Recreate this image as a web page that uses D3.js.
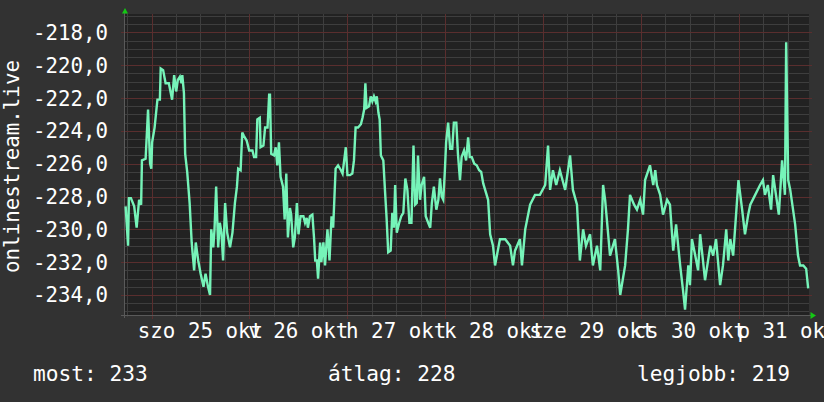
<!DOCTYPE html>
<html>
<head>
<meta charset="utf-8">
<script src="https://cdn.jsdelivr.net/npm/d3@7"></script>
<style>
  body { margin: 0; background: #323232; }
  svg { display: block; }
  text { font-family: "DejaVu Sans Mono", monospace; fill: #ffffff; }
</style>
</head>
<body>
<script>
// hours since 2014-10-24 17:15 and the value read at that time
var hours = [
  0.4, 1.0, 1.2, 1.7, 2.5, 3.1, 3.7, 4.2, 4.4, 5.3, 5.9, 6.4, 6.7, 6.9, 7.5, 8.2, 8.8, 9.0, 9.6, 10.2,
  11.0, 11.8, 12.3, 12.8, 13.2, 13.7, 14.1, 14.3, 14.7, 15.0, 15.5, 16.1, 16.6, 17.2, 17.6, 18.2, 18.8, 19.5, 20.0, 20.6,
  21.1, 21.4, 21.9, 22.2, 22.6, 23.1, 23.5, 23.9, 24.3, 24.8, 25.3, 26.0, 26.6, 27.2, 27.7, 28.0, 28.6, 29.0, 29.4, 30.1,
  30.7, 31.5, 31.9, 32.4, 32.7, 33.3, 33.5, 34.2, 34.6, 35.2, 35.6, 35.8, 36.1, 36.8, 37.2, 37.6, 38.0, 38.4, 39.0, 39.4,
  39.8, 40.2, 40.7, 41.0, 41.5, 41.9, 42.4, 42.8, 43.3, 44.0, 44.4, 44.8, 45.1, 45.6, 46.2, 46.6, 46.9, 47.3, 47.6, 48.1,
  48.4, 48.9, 49.3, 49.9, 50.4, 50.9, 51.3, 51.9, 52.5, 53.2, 53.6, 54.0, 54.4, 54.8, 55.4, 56.0, 56.4, 56.8, 57.4, 58.1,
  58.5, 58.9, 59.2, 59.5, 60.1, 60.5, 60.9, 61.3, 61.7, 62.0, 62.4, 62.7, 63.0, 63.6, 64.0, 64.4, 64.8, 65.4, 65.8, 66.2,
  66.5, 66.9, 67.5, 68.0, 68.5, 69.0, 69.5, 70.0, 70.5, 71.0, 71.4, 71.8, 72.1, 72.6, 73.0, 73.6, 74.0, 74.6, 75.1, 75.5,
  76.0, 76.6, 77.1, 77.5, 77.9, 78.3, 78.7, 79.0, 79.5, 80.0, 80.5, 80.9, 81.5, 81.9, 82.4, 82.8, 83.4, 83.9, 84.4, 84.8,
  85.3, 85.9, 86.5, 87.1, 87.6, 88.1, 89.3, 89.8, 90.5, 91.0, 92.2, 93.5, 94.7, 95.4, 95.9, 97.1, 97.6, 98.4, 99.6, 100.8,
  102.0, 103.3, 104.0, 104.5, 105.2, 106.0, 106.9, 108.2, 109.4, 110.1, 111.1, 111.8, 112.6, 113.3, 114.3, 115.0, 116.0, 116.8, 117.5, 118.0,
  119.2, 120.4, 121.2, 121.7, 122.9, 123.6, 124.1, 125.1, 125.8, 126.6, 127.3, 127.8, 129.0, 129.8, 130.3, 130.7, 131.5, 132.2, 133.2, 133.9,
  134.7, 135.4, 136.4, 137.1, 137.6, 138.4, 138.8, 139.3, 140.1, 140.8, 141.3, 142.0, 142.5, 143.8, 144.5, 145.2, 146.2, 146.9, 147.7, 148.2,
  148.7, 149.4, 150.2, 150.7, 151.6, 152.3, 153.1, 153.6, 154.8, 156.0, 156.7, 157.2, 157.9, 158.7, 159.2, 159.9, 160.6, 161.4, 162.1, 162.4,
  162.9, 163.4, 164.6, 165.3, 165.8, 166.6, 167.3, 167.8
]
var values = [
  -228.6, -231.0, -228.1, -228.1, -228.6, -229.9, -228.2, -228.5, -225.8, -225.7, -222.7, -226.0, -226.3, -224.7, -223.8, -222.1, -222.1, -220.2, -220.3, -221.1,
  -221.1, -222.1, -220.6, -221.6, -220.9, -220.7, -221.1, -220.6, -221.7, -225.4, -226.5, -228.4, -230.8, -232.5, -230.8, -231.9, -232.7, -233.5, -232.7, -233.5,
  -234.0, -230.0, -231.1, -230.0, -227.4, -231.1, -229.6, -230.2, -231.9, -228.4, -230.2, -231.1, -230.2, -228.4, -227.4, -226.3, -226.4, -224.1, -224.3, -224.6,
  -225.2, -225.2, -225.6, -225.6, -223.3, -223.2, -225.0, -224.9, -223.8, -223.8, -221.8, -221.8, -225.4, -225.5, -225.0, -226.1, -224.7, -226.8, -227.4, -229.4,
  -226.6, -230.5, -228.7, -229.1, -231.1, -230.5, -228.4, -230.3, -229.2, -229.2, -229.6, -229.3, -229.9, -229.2, -229.1, -230.5, -231.9, -231.9, -233.0, -230.8,
  -232.0, -230.8, -232.2, -230.0, -231.9, -229.2, -229.9, -226.3, -226.1, -226.4, -226.6, -225.8, -225.0, -226.7, -226.7, -226.6, -225.8, -223.8, -223.8, -223.6,
  -223.2, -222.7, -221.1, -222.6, -222.5, -221.9, -222.2, -221.9, -222.2, -221.9, -222.9, -223.3, -225.5, -225.8, -227.6, -229.3, -231.4, -231.3, -229.0, -229.9,
  -227.3, -230.2, -229.6, -229.2, -229.0, -226.9, -227.6, -229.6, -229.6, -224.9, -228.5, -228.4, -225.5, -228.2, -227.3, -226.8, -229.2, -229.6, -229.9, -228.4,
  -227.4, -228.8, -228.2, -226.9, -228.0, -228.2, -226.4, -224.7, -223.5, -225.1, -225.1, -223.5, -223.5, -225.4, -227.0, -225.6, -225.2, -225.8, -224.4, -225.6,
  -225.6, -226.0, -226.1, -226.4, -226.5, -227.2, -228.2, -230.3, -231.0, -232.2, -230.6, -230.6, -231.0, -232.2, -231.3, -230.6, -232.2, -230.0, -228.5, -227.9,
  -227.9, -227.3, -224.9, -227.6, -226.4, -227.3, -226.4, -227.6, -225.5, -227.6, -228.5, -231.9, -230.0, -231.0, -230.3, -232.2, -231.0, -232.5, -227.3, -228.2,
  -231.6, -230.6, -232.5, -234.0, -232.2, -230.0, -227.9, -228.5, -228.8, -228.2, -229.1, -227.0, -226.1, -227.3, -226.4, -227.3, -227.9, -229.1, -228.2, -228.5,
  -231.3, -229.7, -232.2, -233.7, -234.9, -232.2, -233.4, -230.6, -231.6, -232.5, -230.3, -231.9, -233.1, -231.0, -231.6, -230.6, -233.4, -232.2, -230.0, -231.9,
  -230.6, -231.6, -228.8, -227.0, -228.8, -230.3, -229.1, -228.5, -227.9, -227.3, -227.0, -227.9, -227.3, -228.8, -226.7, -227.9, -229.1, -225.8, -227.9, -218.6,
  -227.0, -227.6, -229.7, -231.6, -232.2, -232.2, -232.4, -233.6
]
var yTicks = [-234, -232, -230, -228, -226, -224, -222, -220, -218]
var dayLabels = ['2014-10-25', '2014-10-26', '2014-10-27', '2014-10-28', '2014-10-29', '2014-10-30', '2014-10-31']
var yTitle = 'onlinestream.live'
var legendLabels = ['most: 233', 'átlag: 228', 'legjobb: 219']

var W = 824
var H = 402
var plot = { left: 124, right: 809, top: 14, bottom: 315 }

var start = new Date(2014, 9, 24, 17, 15)
var end = new Date(2014, 9, 31, 17, 15)

var hu = d3.timeFormatLocale({
  dateTime: '%Y. %B %-e., %A %X',
  date: '%Y. %m. %d.',
  time: '%H:%M:%S',
  periods: ['de.', 'du.'],
  days: ['vasárnap', 'hétfő', 'kedd', 'szerda', 'csütörtök', 'péntek', 'szombat'],
  shortDays: ['v', 'h', 'k', 'sze', 'cs', 'p', 'szo'],
  months: ['január', 'február', 'március', 'április', 'május', 'június', 'július', 'augusztus', 'szeptember', 'október', 'november', 'december'],
  shortMonths: ['jan', 'feb', 'már', 'ápr', 'máj', 'jún', 'júl', 'aug', 'szep', 'okt', 'nov', 'dec']
})
var dayFmt = hu.format('%a %d %b')
var numFmt = d3.formatLocale({ decimal: ',', thousands: ' ', grouping: [3], currency: ['', ''], minus: '-' }).format('.1f')

var data = hours.map(function (h, i) {
  return { t: d3.timeMinute.offset(start, Math.round(h * 60)), v: values[i] }
})

var x = d3.scaleTime()
  .domain([start, end])
  .range([plot.left, plot.right])

var y = d3.scaleLinear()
  .domain([-235.22, -216.88])
  .range([plot.bottom, plot.top])

var svg = d3.select('body').append('svg')
  .attr('width', W)
  .attr('height', H)

svg.append('rect')
  .attr('width', W).attr('height', H)
  .attr('fill', '#323232')

svg.append('rect')
  .attr('x', plot.left).attr('y', plot.top)
  .attr('width', plot.right - plot.left).attr('height', plot.bottom - plot.top)
  .attr('fill', '#222222')

// grid lines are dotted in the original; drawn here as thin solid lines of the mixed tone
var grid = svg.append('g').attr('shape-rendering', 'crispEdges')
var minorColor = '#3e3e3e'
var majorColor = '#5a2e2e'

var minorY = d3.range(-235, -216.9, 0.5).filter(function (v) { return v % 2 !== 0 })
grid.selectAll('rect.hminor').data(minorY).enter().append('rect')
  .attr('class', 'hminor')
  .attr('x', plot.left).attr('width', plot.right - plot.left)
  .attr('y', function (d) { return Math.round(y(d)) }).attr('height', 1)
  .attr('fill', minorColor)

var minorX = d3.timeHour.every(6).range(start, end).filter(function (d) { return d.getHours() !== 0 })
grid.selectAll('rect.vminor').data(minorX).enter().append('rect')
  .attr('class', 'vminor')
  .attr('x', function (d) { return Math.round(x(d)) }).attr('width', 1)
  .attr('y', plot.top).attr('height', plot.bottom - plot.top + 2)
  .attr('fill', minorColor)

var majorY = d3.range(-234, -216.9, 2)
grid.selectAll('rect.hmajor').data(majorY).enter().append('rect')
  .attr('class', 'hmajor')
  .attr('x', plot.left - 3).attr('width', plot.right - plot.left + 6)
  .attr('y', function (d) { return Math.round(y(d)) }).attr('height', 1)
  .attr('fill', majorColor)

var majorX = d3.timeDay.range(start, end)
grid.selectAll('rect.vmajor').data(majorX).enter().append('rect')
  .attr('class', 'vmajor')
  .attr('x', function (d) { return Math.round(x(d)) }).attr('width', 1)
  .attr('y', plot.top).attr('height', plot.bottom - plot.top + 4)
  .attr('fill', majorColor)

// axis lines
grid.append('rect')
  .attr('x', plot.left - 3).attr('width', plot.right - plot.left + 5)
  .attr('y', plot.bottom).attr('height', 1)
  .attr('fill', '#5a5a5a')
grid.append('rect')
  .attr('x', plot.left).attr('width', 1)
  .attr('y', plot.top - 1).attr('height', plot.bottom - plot.top + 4)
  .attr('fill', '#5a5a5a')

// arrows
svg.append('path')
  .attr('d', 'M' + (plot.left + 1) + ',8L' + (plot.left + 4) + ',13.5L' + (plot.left - 2) + ',13.5Z')
  .attr('fill', '#14c814')
svg.append('path')
  .attr('d', 'M' + (plot.right + 1.5) + ',' + (plot.bottom - 3) + 'L' + (plot.right + 7) + ',' + (plot.bottom + 0.5) + 'L' + (plot.right + 1.5) + ',' + (plot.bottom + 4) + 'Z')
  .attr('fill', '#14c814')

// data line
var line = d3.line()
  .x(function (d) { return x(d.t) })
  .y(function (d) { return y(d.v) })

svg.append('path')
  .datum(data)
  .attr('fill', 'none')
  .attr('stroke', '#76f4b9')
  .attr('stroke-width', 2.4)
  .attr('d', line)

// y labels
svg.selectAll('text.ylab').data(yTicks).enter().append('text')
  .attr('class', 'ylab')
  .attr('x', 108)
  .attr('y', function (d) { return y(d) })
  .attr('dy', '0.36em')
  .attr('text-anchor', 'end')
  .attr('font-size', '20.8px')
  .text(function (d) { return numFmt(d) })

// x labels centred at noon
svg.selectAll('text.xlab').data(dayLabels).enter().append('text')
  .attr('class', 'xlab')
  .attr('x', function (d) { return x(d3.timeHour.offset(new Date(d + 'T00:00'), 12)) })
  .attr('y', 338)
  .attr('text-anchor', 'middle')
  .attr('font-size', '20.8px')
  .text(function (d) { return dayFmt(new Date(d + 'T00:00')) })

// y title
svg.append('text')
  .attr('transform', 'translate(19,' + ((plot.top + plot.bottom) / 2 + 2) + ') rotate(-90)')
  .attr('text-anchor', 'middle')
  .attr('font-size', '20.8px')
  .text(yTitle)

// legend
var legendX = [33, 328, 637]
svg.selectAll('text.leg').data(legendLabels).enter().append('text')
  .attr('class', 'leg')
  .attr('x', function (d, i) { return legendX[i] })
  .attr('y', 381)
  .attr('font-size', '21.2px')
  .text(function (d) { return d })
</script>
</body>
</html>
